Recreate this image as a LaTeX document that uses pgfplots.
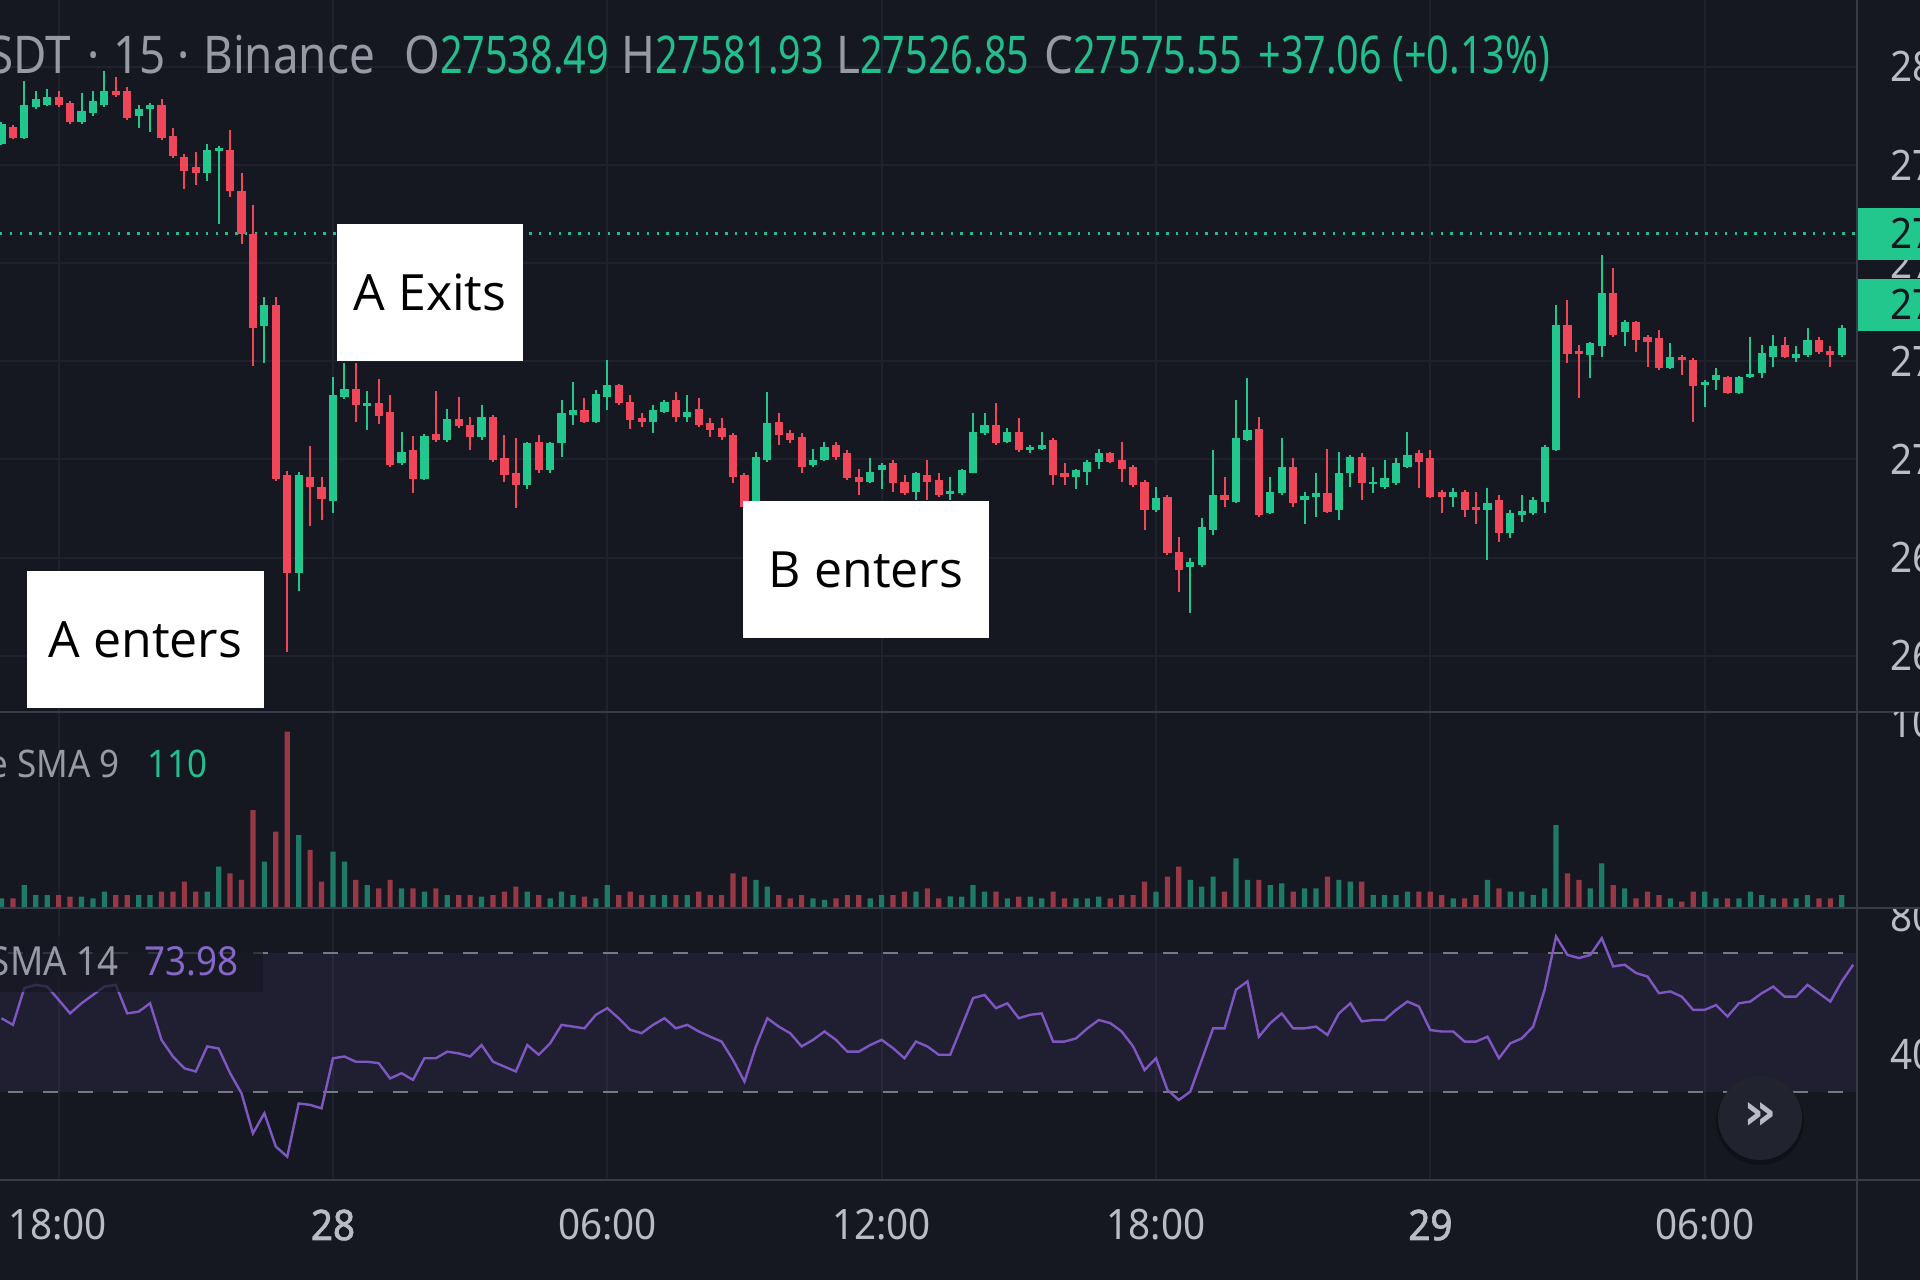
\documentclass[border=0pt]{standalone}
\usepackage{pgfplots}
\pgfplotsset{compat=1.18}
\usepackage{pgfplotstable}
\usepackage{fontspec}
\setmainfont{Noto Sans}
\newfontfamily\tvA[FakeStretch=0.88]{Noto Sans}
\newfontfamily\tvN[FakeStretch=0.76]{Noto Sans}
\newfontfamily\tvT[FakeStretch=0.92]{Noto Sans}
\newfontfamily\tvTB[FakeStretch=0.92,FakeBold=1.6]{Noto Sans}
\newfontfamily\ann{Open Sans}
\newfontfamily\sym{DejaVu Sans}

\definecolor{bg}{RGB}{22,24,33}
\definecolor{gridc}{RGB}{31,34,45}
\definecolor{sepc}{RGB}{56,60,72}
\definecolor{cg}{RGB}{34,199,142}
\definecolor{cr}{RGB}{240,70,90}
\definecolor{vg}{RGB}{30,122,102}
\definecolor{vr}{RGB}{150,56,70}
\definecolor{txt}{RGB}{150,154,165}
\definecolor{txtl}{RGB}{185,188,197}
\definecolor{rsic}{RGB}{126,87,194}
\definecolor{dashc}{RGB}{118,121,132}
\definecolor{hgreen}{RGB}{36,190,140}
\definecolor{rsitxt}{RGB}{133,103,200}
\definecolor{btn}{RGB}{33,35,46}
\definecolor{darktxt}{RGB}{18,22,30}

\pgfplotstableread{
i o h l c v
-29 27804 27861 27801 27856 6.4
-28 27848 27853 27816 27819 6.4
-27 27819 27965 27817 27903 13.7
-26 27897 27939 27892 27918 8.2
-25 27903 27944 27900 27923 8.2
-24 27923 27939 27897 27903 8.2
-23 27908 27913 27856 27861 7.3
-22 27861 27934 27856 27887 7.3
-21 27882 27939 27876 27913 6.4
-20 27903 27991 27897 27939 10.1
-19 27939 27975 27923 27928 8.2
-18 27939 27949 27866 27871 8.2
-17 27876 27903 27845 27892 8.2
-16 27892 27908 27835 27903 8.2
-15 27903 27918 27814 27819 10.1
-14 27825 27845 27767 27772 10.1
-13 27772 27778 27689 27736 15.6
-12 27746 27783 27700 27731 10.1
-11 27731 27804 27710 27788 10.1
-10 27788 27799 27601 27793 23.8
-9 27788 27840 27669 27684 20.1
-8 27684 27731 27549 27575 16.5
-7 27575 27648 27237 27336 54.9
-6 27341 27414 27247 27393 26.6
-5 27393 27414 26946 26951 43.0
-4 26961 26972 26509 26712 98.0
-3 26712 26967 26665 26961 41.2
-2 26956 27034 26831 26930 33.0
-1 26930 26956 26847 26899 15.6
0 26894 27211 26863 27164 32.1
1 27159 27247 27154 27180 26.6
2 27180 27247 27096 27138 16.5
3 27138 27174 27076 27143 13.7
4 27143 27206 27091 27112 11.9
5 27122 27164 26982 26987 16.5
6 26992 27070 26987 27018 11.9
7 27024 27060 26914 26951 11.9
8 26951 27065 26948 27060 10.1
9 27065 27174 27045 27050 11.9
10 27050 27128 27045 27102 8.2
11 27102 27159 27081 27086 8.2
12 27088 27109 27024 27058 8.2
13 27058 27139 27050 27109 7.3
14 27109 27113 26994 26999 8.2
15 27003 27062 26943 26960 10.1
16 26965 27054 26876 26935 12.8
17 26935 27045 26926 27041 10.1
18 27045 27062 26965 26973 8.2
19 26973 27045 26965 27041 6.4
20 27041 27152 27007 27118 10.1
21 27113 27198 27088 27126 8.2
22 27126 27156 27092 27096 7.3
23 27096 27177 27092 27168 6.4
24 27160 27253 27126 27190 13.7
25 27190 27192 27139 27143 8.2
26 27147 27164 27079 27101 10.1
27 27105 27118 27084 27096 8.2
28 27096 27139 27067 27126 8.2
29 27122 27152 27118 27147 8.2
30 27152 27173 27096 27109 8.2
31 27109 27164 27096 27122 8.2
32 27130 27156 27084 27088 10.1
33 27092 27105 27058 27075 8.2
34 27079 27105 27050 27058 8.2
35 27062 27067 26939 26956 20.1
36 26960 26965 26795 26880 18.3
37 26888 27020 26880 27007 16.5
38 26999 27173 26994 27092 12.8
39 27096 27118 27037 27062 8.2
40 27067 27075 27041 27050 6.4
41 27058 27067 26965 26982 8.2
42 26986 27028 26982 26999 6.4
43 26999 27045 26997 27033 5.5
44 27037 27045 26999 27007 6.4
45 27016 27024 26948 26952 8.2
46 26956 26977 26909 26943 8.2
47 26943 27003 26939 26969 6.4
48 26973 26990 26926 26986 8.2
49 26990 26999 26918 26939 8.2
50 26943 26960 26909 26914 10.1
51 26918 26969 26897 26965 10.1
52 26960 26999 26897 26943 11.9
53 26948 26965 26905 26909 6.4
54 26914 26956 26897 26918 7.5
55 26914 26977 26909 26973 7.3
56 26965 27118 26965 27071 13.7
57 27067 27118 27062 27088 10.1
58 27088 27143 27037 27041 10.1
59 27045 27079 27041 27071 6.4
60 27071 27105 27020 27024 7.3
61 27024 27037 27016 27031 7.3
62 27028 27071 27024 27037 6.4
63 27050 27054 26935 26960 10.1
64 26965 26990 26935 26956 6.4
65 26956 26977 26926 26973 6.4
66 26969 26999 26935 26994 6.4
67 26994 27028 26977 27016 7.3
68 27016 27020 26990 26994 6.4
69 26999 27045 26943 26977 8.2
70 26982 26986 26931 26935 8.2
71 26943 26948 26820 26871 15.6
72 26871 26931 26867 26901 10.1
73 26905 26909 26757 26761 18.3
74 26765 26803 26663 26718 23.8
75 26727 26748 26609 26740 16.5
76 26731 26850 26727 26829 12.8
77 26820 27024 26808 26909 18.3
78 26909 26956 26880 26897 10.1
79 26892 27152 26890 27054 28.4
80 27050 27207 27048 27075 16.5
81 27079 27109 26854 26858 16.5
82 26863 26956 26861 26918 13.7
83 26914 27054 26909 26982 14.7
84 26982 27003 26880 26888 10.1
85 26897 26918 26837 26907 11.9
86 26905 26965 26854 26916 11.9
87 26914 27028 26863 26867 18.3
88 26871 27020 26846 26965 16.5
89 26965 27012 26931 27007 15.6
90 27007 27016 26897 26939 15.6
91 26937 26982 26914 26943 8.2
92 26931 26999 26926 26952 8.2
93 26939 27003 26935 26990 8.2
94 26982 27071 26978 27012 10.1
95 27016 27024 26927 26994 10.1
96 27003 27024 26901 26905 10.1
97 26918 26922 26863 26905 8.2
98 26905 26927 26880 26918 6.4
99 26918 26922 26854 26871 6.4
100 26878 26918 26837 26871 8.2
101 26871 26927 26744 26888 16.5
102 26897 26910 26791 26812 11.9
103 26812 26871 26799 26863 10.1
104 26859 26910 26842 26870 10.1
105 26863 26905 26859 26897 8.2
106 26893 27037 26863 27033 11.9
107 27024 27394 27023 27343 46.7
108 27343 27406 27245 27270 20.1
109 27277 27292 27156 27270 16.5
110 27266 27300 27207 27296 11.9
111 27288 27521 27262 27423 25.6
112 27423 27487 27313 27317 13.7
113 27326 27355 27288 27351 11.9
114 27351 27353 27275 27305 6.4
115 27311 27317 27237 27300 10.1
116 27309 27330 27228 27232 8.2
117 27232 27296 27231 27262 6.4
118 27262 27266 27215 27254 4.6
119 27254 27258 27096 27186 10.1
120 27190 27203 27135 27197 10.1
121 27203 27232 27177 27215 6.4
122 27211 27213 27167 27169 6.4
123 27169 27213 27167 27211 6.4
124 27211 27313 27209 27218 10.1
125 27220 27292 27207 27271 8.2
126 27262 27317 27237 27288 6.4
127 27292 27313 27258 27262 6.4
128 27258 27288 27249 27269 6.4
129 27266 27334 27262 27305 8.2
130 27305 27313 27270 27275 6.4
131 27276 27288 27237 27266 6.4
132 27266 27343 27262 27334 8.2
}\candles

\pgfplotstableread{
i r
-29 51.3
-28 49.4
-27 60.0
-26 60.9
-25 60.4
-24 56.6
-23 52.7
-22 55.6
-21 58.0
-20 60.4
-19 60.9
-18 52.7
-17 53.2
-16 55.6
-15 45.1
-14 40.3
-13 36.9
-12 36.0
-11 43.2
-10 42.6
-9 35.5
-8 29.7
-7 18.2
-6 24.0
-5 14.4
-4 11.5
-3 26.8
-2 26.4
-1 25.4
0 39.8
1 40.3
2 38.8
3 38.8
4 38.4
5 34.0
6 35.5
7 33.6
8 39.8
9 39.8
10 41.7
11 41.2
12 40.3
13 43.6
14 38.8
15 37.4
16 36.0
17 43.6
18 40.8
19 44.1
20 49.4
21 48.9
22 48.4
23 52.3
24 54.2
25 51.3
26 48.0
27 47.0
28 49.4
29 51.3
30 48.4
31 49.4
32 47.5
33 46.0
34 44.6
35 39.3
36 33.1
37 43.2
38 51.3
39 48.9
40 47.0
41 43.2
42 45.1
43 47.5
44 45.1
45 41.7
46 41.7
47 43.6
48 45.1
49 42.7
50 39.8
51 44.6
52 43.2
53 40.8
54 40.8
55 48.9
56 57.1
57 58.0
58 54.2
59 55.6
60 51.3
61 52.3
62 52.7
63 44.6
64 44.6
65 45.5
66 48.4
67 50.8
68 49.9
69 47.5
70 43.2
71 36.4
72 39.8
73 30.7
74 27.8
75 30.2
76 39.3
77 48.4
78 48.4
79 59.5
80 61.9
81 46.0
82 49.9
83 52.7
84 48.4
85 48.4
86 48.9
87 46.5
88 52.7
89 55.6
90 50.4
91 50.8
92 50.8
93 53.7
94 56.1
95 54.7
96 47.9
97 47.5
98 47.5
99 44.6
100 44.6
101 46.0
102 39.8
103 44.1
104 45.5
105 48.9
106 59.5
107 74.8
108 69.5
109 68.6
110 69.5
111 74.3
112 66.2
113 66.7
114 64.3
115 63.3
116 58.5
117 59.0
118 57.5
119 53.7
120 53.7
121 55.1
122 51.8
123 55.6
124 56.1
125 58.5
126 60.4
127 57.5
128 57.5
129 60.9
130 58.5
131 56.1
132 61.9
133 66.7
}\rsidata

\pgfplotsset{
  pane/.style={scale only axis, anchor=south west, width=928.5pt,
    xmin=-29.13, xmax=133.33, enlargelimits=false,
    axis line style={draw=none}, tick style={draw=none},
    xtick={-24,0,24,48,72,96,120}, xticklabels={}, yticklabels={},
    xmajorgrids, major grid style={draw=gridc, line width=1pt}, clip=true},
  upc/.style={restrict expr to domain={\thisrow{c}-\thisrow{o}}{0:100000}},
  dnc/.style={restrict expr to domain={\thisrow{c}-\thisrow{o}}{-100000:-0.001}},
}

\begin{document}
\begin{tikzpicture}
\useasboundingbox (0pt,0pt) rectangle (960pt,640pt);
\clip (0pt,0pt) rectangle (960pt,640pt);
\fill[bg] (0pt,0pt) rectangle (960pt,640pt);

% ---------- price pane ----------
\begin{axis}[pane, at={(0pt,284pt)}, height=356pt,
  ymin=26356.7, ymax=28170.7,
  ytick={26500,26750,27000,27250,27500,27750,28000}, ymajorgrids]
\addplot[hgreen, line width=1.1pt, dash pattern=on 1.2pt off 3.7pt, forget plot]
  coordinates {(-29.13,27575.55) (133.33,27575.55)};
% wicks
\addplot[draw=none, mark=none, forget plot, upc,
  error bars/.cd, y dir=both, y explicit, error mark=none,
  error bar style={draw=cg, line width=1pt}]
  table[x=i, y expr={(\thisrow{h}+\thisrow{l})/2}, y error expr={(\thisrow{h}-\thisrow{l})/2}] {\candles};
\addplot[draw=none, mark=none, forget plot, dnc,
  error bars/.cd, y dir=both, y explicit, error mark=none,
  error bar style={draw=cr, line width=1pt}]
  table[x=i, y expr={(\thisrow{h}+\thisrow{l})/2}, y error expr={(\thisrow{h}-\thisrow{l})/2}] {\candles};
% bodies
\addplot[draw=none, mark=none, forget plot, upc,
  error bars/.cd, y dir=both, y explicit, error mark=none,
  error bar style={draw=cg, line width=4.1pt}]
  table[x=i, y expr={(\thisrow{o}+\thisrow{c})/2}, y error expr={max(abs(\thisrow{c}-\thisrow{o})/2,3.5)}] {\candles};
\addplot[draw=none, mark=none, forget plot, dnc,
  error bars/.cd, y dir=both, y explicit, error mark=none,
  error bar style={draw=cr, line width=4.1pt}]
  table[x=i, y expr={(\thisrow{o}+\thisrow{c})/2}, y error expr={max(abs(\thisrow{c}-\thisrow{o})/2,3.5)}] {\candles};
\end{axis}

% ---------- volume pane ----------
\begin{axis}[pane, at={(0pt,186pt)}, height=98pt,
  ymin=1.1, ymax=108.8, ytick=\empty]
\addplot[ybar, bar width=2.6pt, bar shift=0pt, fill=vg, draw=none, upc]
  table[x=i, y=v] {\candles};
\addplot[ybar, bar width=2.6pt, bar shift=0pt, fill=vr, draw=none, dnc]
  table[x=i, y=v] {\candles};
\end{axis}

% ---------- RSI pane ----------
\begin{axis}[pane, at={(0pt,50pt)}, height=136pt,
  ymin=4.8, ymax=83.0, ytick=\empty]
\addplot[draw=none, fill=rsic, fill opacity=0.1, forget plot]
  coordinates {(-29.13,30) (133.33,30) (133.33,70) (-29.13,70)} -- cycle;
\addplot[dashc, line width=1.1pt, dash pattern=on 7.5pt off 10pt, forget plot]
  coordinates {(-28.4,70) (133.33,70)};
\addplot[dashc, line width=1.1pt, dash pattern=on 7.5pt off 10pt, forget plot]
  coordinates {(-28.4,30) (133.33,30)};
\addplot[rsic, line width=1.2pt, mark=none] table[x=i, y=r] {\rsidata};
\end{axis}

% ---------- overlays in image pixel coordinates ----------
\begin{scope}[shift={(0pt,640pt)}, x=0.5pt, y=-0.5pt]
  % separators
  \draw[sepc, line width=1.1pt] (0,712) -- (1920,712);
  \draw[sepc, line width=1.1pt] (0,908) -- (1920,908);
  \draw[sepc, line width=1.1pt] (0,1180) -- (1920,1180);
  \draw[sepc, line width=1pt] (1857,0) -- (1857,1280);

  % header
  \begin{scope}[every node/.style={inner sep=0pt, font=\tvA\fontsize{26pt}{30pt}\selectfont}]
    \node[anchor=base east, text=txt] at (71,74) {BTCUSDT};
    \node[anchor=base, text=txt] at (94,74) {·};
    \node[anchor=base west, text=txt] at (113,74) {15};
    \node[anchor=base, text=txt] at (184,74) {·};
    \node[anchor=base west, text=txt] at (203,74) {Binance};
    \node[anchor=base west] at (404,74) {\textcolor{txt}{O}\textcolor{hgreen}{\tvN 27538.49}};
    \node[anchor=base west] at (621,74) {\textcolor{txt}{H}\textcolor{hgreen}{\tvN 27581.93}};
    \node[anchor=base west] at (836,74) {\textcolor{txt}{L}\textcolor{hgreen}{\tvN 27526.85}};
    \node[anchor=base west] at (1044,74) {\textcolor{txt}{C}\textcolor{hgreen}{\tvN 27575.55}};
    \node[anchor=base west, text=hgreen] at (1258,74) {\tvN +37.06};
    \node[anchor=base west, text=hgreen] at (1392,74) {\tvN (+0.13\%)};
  \end{scope}

  % price scale labels
  \begin{scope}
    \clip (1858,0) rectangle (1920,711);
    \foreach \lab/\yy in {28000.00/67,27750.00/165.1,27500.00/263.3,27250.00/361.4,27000.00/459.5,26750.00/557.6,26500.00/655.8}{
      \node[anchor=west, inner sep=0pt, text=txtl, font=\tvT\fontsize{21pt}{24pt}\selectfont] at (1890,\yy) {\lab};
    }
    \fill[cg] (1857,208) rectangle (1920,260);
    \node[anchor=west, inner sep=0pt, text=darktxt, font=\tvT\fontsize{21pt}{24pt}\selectfont] at (1890,234) {27575.55};
    \fill[cg] (1852,279) rectangle (1920,331);
    \node[anchor=west, inner sep=0pt, text=darktxt, font=\tvT\fontsize{21pt}{24pt}\selectfont] at (1890,305) {27392.00};
  \end{scope}
  \begin{scope}
    \clip (1858,713) rectangle (1920,907);
    \node[anchor=west, inner sep=0pt, text=txtl, font=\tvT\fontsize{21pt}{24pt}\selectfont] at (1890,722) {100};
  \end{scope}
  \begin{scope}
    \clip (1858,909) rectangle (1920,1179);
    \node[anchor=west, inner sep=0pt, text=txtl, font=\tvT\fontsize{21pt}{24pt}\selectfont] at (1890,917) {80.00};
    \node[anchor=west, inner sep=0pt, text=txtl, font=\tvT\fontsize{21pt}{24pt}\selectfont] at (1890,1055) {40.00};
  \end{scope}

  % time labels
  \begin{scope}[every node/.style={inner sep=0pt, text=txtl, font=\tvT\fontsize{21pt}{24pt}\selectfont}]
    \node at (57.5,1225) {18:00};
    \node[font=\tvTB\fontsize{21pt}{24pt}\selectfont] at (333,1225) {28};
    \node at (607.4,1225) {06:00};
    \node at (881.7,1225) {12:00};
    \node at (1156,1225) {18:00};
    \node[font=\tvTB\fontsize{21pt}{24pt}\selectfont] at (1430.4,1225) {29};
    \node at (1704.7,1225) {06:00};
  \end{scope}

  % indicator legends
  \node[anchor=base east, inner sep=0pt, text=txt, font=\tvT\fontsize{19pt}{22pt}\selectfont] at (120,778) {Volume SMA 9};
  \node[anchor=base west, inner sep=0pt, text=hgreen, font=\tvT\fontsize{19pt}{22pt}\selectfont] at (147,778) {110};
  \fill[bg, opacity=0.7] (0,937) rectangle (263,992);
  \node[anchor=base east, inner sep=0pt, text=txt, font=\tvT\fontsize{20pt}{22pt}\selectfont] at (119,975) {RSI 14 close SMA 14};
  \node[anchor=base west, inner sep=0pt, text=rsitxt, font=\tvT\fontsize{20pt}{22pt}\selectfont] at (144,975) {73.98};

  % scroll button
  \fill[black, opacity=0.25] (1760,1121) circle (44);
  \fill[btn] (1760,1118) circle (42);
  \node[text=txtl, font=\sym\bfseries\fontsize{26pt}{28pt}\selectfont, inner sep=0pt] at (1760,1116) {»};

  % annotation boxes
  \fill[white] (27,571) rectangle (264,708);
  \node[text=black, inner sep=0pt, font=\ann\fontsize{25pt}{30pt}\selectfont] at (145.5,639.5) {A enters};
  \fill[white] (337,224) rectangle (523,361);
  \node[text=black, inner sep=0pt, font=\ann\fontsize{25pt}{30pt}\selectfont] at (430,292.5) {A Exits};
  \fill[white] (743,501) rectangle (989,638);
  \node[text=black, inner sep=0pt, font=\ann\fontsize{25pt}{30pt}\selectfont] at (866,569.5) {B enters};
\end{scope}
\end{tikzpicture}
\end{document}
